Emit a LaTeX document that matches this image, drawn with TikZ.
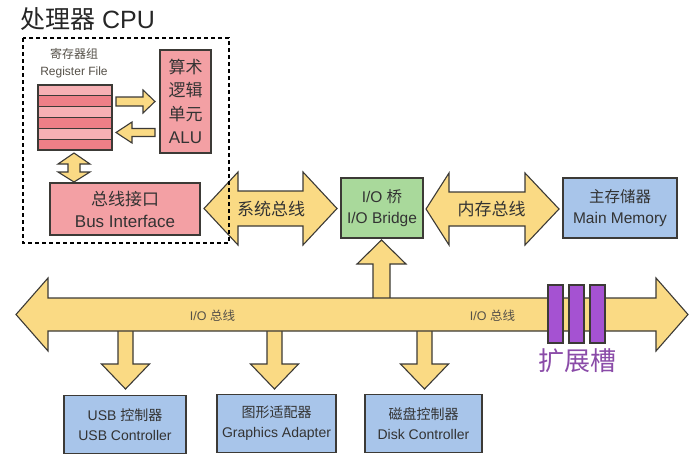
\documentclass[tikz,border=0pt]{standalone}
\usepackage{fontspec}
\setmainfont{Liberation Sans}
\newfontfamily\cjk{Noto Sans CJK SC}
\definecolor{arrowfill}{HTML}{FADA84}
\definecolor{edge}{HTML}{3C3A36}
\definecolor{pinkbox}{HTML}{F3A0A4}
\definecolor{reglight}{HTML}{F6B0B4}
\definecolor{regdark}{HTML}{EE7F87}
\definecolor{greenbox}{HTML}{A9D99B}
\definecolor{bluebox}{HTML}{A8C5EA}
\definecolor{slot}{HTML}{A552D2}
\definecolor{slottext}{HTML}{8A4BA8}
\definecolor{txt}{HTML}{333333}
\definecolor{lighttxt}{HTML}{555048}
\newcommand\fs[2]{\fontsize{#1}{#2}\selectfont}
% horizontal double arrow: xL xR yc headL headR headhalf shafthalf
\newcommand\hdarrow[7]{%
\draw[blockarrow] (#1,#3) -- ({#1+#4},{#3-#6}) -- ({#1+#4},{#3-#7}) -- ({#2-#5},{#3-#7}) -- ({#2-#5},{#3-#6}) -- (#2,#3) -- ({#2-#5},{#3+#6}) -- ({#2-#5},{#3+#7}) -- ({#1+#4},{#3+#7}) -- ({#1+#4},{#3+#6}) -- cycle;}
% vertical single arrow: xc ytip ybase yend headhalf shafthalf
\newcommand\vsarrow[6]{%
\draw[blockarrow] (#1,#2) -- ({#1-#5},#3) -- ({#1-#6},#3) -- ({#1-#6},#4) -- ({#1+#6},#4) -- ({#1+#6},#3) -- ({#1+#5},#3) -- cycle;}
% horizontal single arrow: xtip xbase xend yc headhalf shafthalf
\newcommand\hsarrow[6]{%
\draw[blockarrow] (#1,#4) -- (#2,{#4-#5}) -- (#2,{#4-#6}) -- (#3,{#4-#6}) -- (#3,{#4+#6}) -- (#2,{#4+#6}) -- (#2,{#4+#5}) -- cycle;}
% vertical double arrow: xc ytop ytopbase ybotbase ybot headhalf shafthalf
\newcommand\vdarrow[7]{%
\draw[blockarrow] (#1,#2) -- ({#1+#6},#3) -- ({#1+#7},#3) -- ({#1+#7},#4) -- ({#1+#6},#4) -- (#1,#5) -- ({#1-#6},#4) -- ({#1-#7},#4) -- ({#1-#7},#3) -- ({#1-#6},#3) -- cycle;}
\tikzset{
  blockarrow/.style={fill=arrowfill, draw=edge, line width=1.1pt, line join=miter},
  box/.style={draw=edge, line width=1.2pt, inner sep=0pt, align=center, text=txt},
  lbl/.style={inner sep=0pt, align=center, text=txt},
}
\begin{document}
\begin{tikzpicture}[x=1pt,y=-1pt]
\useasboundingbox (0,0) rectangle (700,464);
% title
\node[lbl, anchor=west, text=black!85, font=\fs{25}{28}] (title) at (20,19) {{\cjk 处理器} CPU};

% register file
\node[lbl, font=\fs{12}{17}, text=lighttxt] (reglabel) at (74,63.5) {{\cjk 寄存器组}\\Register File};
\foreach \i in {0,...,5}{
  \pgfmathsetmacro\ya{85+\i*65/6}
  \pgfmathsetmacro\yb{85+(\i+1)*65/6}
  \ifodd\i \def\rc{regdark}\else \def\rc{reglight}\fi
  \draw[fill=\rc, draw=edge, line width=1.1pt] (38,\ya) rectangle (112,\yb);
}
\coordinate (regfile) at (75,117.5);

% ALU
\node[box, fill=pinkbox, minimum width=51pt, minimum height=103pt, font=\fs{17}{23.3}] (alu) at (185.5,101.5)
  {{\cjk 算术}\\{\cjk 逻辑}\\{\cjk 单元}\\ALU};
\hsarrow{155}{143}{116}{101.5}{11.5}{4.5}
\hsarrow{116}{132}{155}{132.5}{10.5}{4}
\vdarrow{74}{153}{164}{172}{182}{16}{6}

% bus interface
\node[box, fill=pinkbox, minimum width=150pt, minimum height=52pt, font=\fs{17}{22}] (busif) at (125,209)
  {{\cjk 总线接口}\\Bus Interface};

% system bus and memory bus
\hdarrow{204}{337}{208.5}{34}{34}{36.5}{17.5}
\node[lbl, font=\fs{17}{20}] (sysbus) at (271,209) {\cjk 系统总线};
\hdarrow{426}{559}{209}{23}{34}{36}{17}
\node[lbl, font=\fs{17}{20}] (membus) at (491.5,209) {\cjk 内存总线};

% CPU dashed frame
\draw[black, line width=1.5pt, dash pattern=on 4pt off 3pt] (23,38) rectangle (229,243);

% bridge and memory
\node[box, fill=greenbox, minimum width=82pt, minimum height=60pt, font=\fs{15.5}{21}] (bridge) at (382,208)
  {I/O {\cjk 桥}\\I/O Bridge};
\node[box, fill=bluebox, minimum width=114pt, minimum height=60pt, font=\fs{15.5}{21}] (mem) at (620,208)
  {{\cjk 主存储器}\\Main Memory};

% arrows to / from the I/O bus
\vsarrow{381.5}{240}{264}{299}{24.5}{8.5}
\vsarrow{125.5}{389}{364}{330}{24}{7.5}
\vsarrow{274.5}{389}{364}{330}{24}{7.5}
\vsarrow{424.5}{389}{364}{330}{24}{7.5}

% I/O bus
\hdarrow{16}{688}{314.5}{32}{32}{36.5}{16.5}
\node[lbl, font=\fs{12.5}{14}, text=lighttxt] (iobus1) at (212.5,316) {I/O {\cjk 总线}};
\node[lbl, font=\fs{12.5}{14}, text=lighttxt] (iobus2) at (492.5,316) {I/O {\cjk 总线}};

% expansion slots
\foreach \x/\n in {548/s1,569/s2,590/s3}
  \node[draw=edge, line width=1.1pt, fill=slot, minimum width=15pt, minimum height=58pt, inner sep=0pt] (\n) at (\x+7.5,314) {};
\node[lbl, text=slottext, font=\fs{26}{28}] (slots) at (577,361) {\cjk 扩展槽};

% peripheral controllers
\node[box, fill=bluebox, minimum width=122pt, minimum height=58pt, font=\fs{14}{20}] (usb) at (125,424.5)
  {USB {\cjk 控制器}\\USB Controller};
\node[box, fill=bluebox, minimum width=119pt, minimum height=58pt, font=\fs{14}{20}] (gfx) at (276.5,423.5)
  {{\cjk 图形适配器}\\Graphics Adapter};
\node[box, fill=bluebox, minimum width=117pt, minimum height=58pt, font=\fs{14}{20}] (disk) at (423.5,423.5)
  {{\cjk 磁盘控制器}\\Disk Controller};
\end{tikzpicture}
\end{document}
